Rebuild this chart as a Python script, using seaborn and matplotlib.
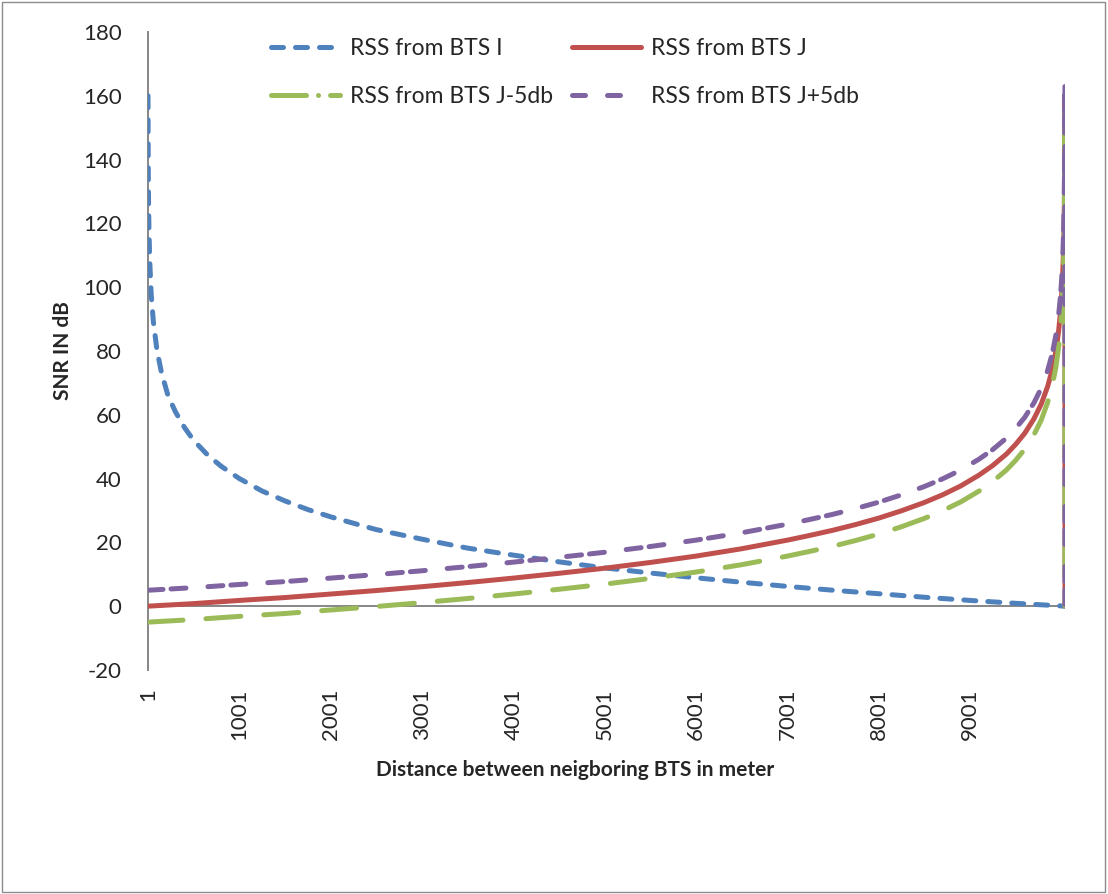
import matplotlib
matplotlib.use("Agg")
import matplotlib.pyplot as plt
from matplotlib.lines import Line2D
import seaborn as sns
import pandas as pd

# values
dist_i = [1, 2, 4, 7, 12, 20, 35, 60, 100, 150, 220, 300, 400, 500, 650, 800,
          1001, 1250, 1500, 1750, 2001, 2250, 2500, 3001, 3500, 4001, 4500,
          5001, 5500, 6001, 6500, 7001, 7500, 8001, 8500, 9001, 9500, 10041]
rss_i = [160, 148, 136, 126, 117, 108, 98, 89, 80, 73, 66, 61, 56, 52, 47.5, 43.9,
         40, 36.1, 33, 30.3, 28, 26, 24, 21, 18.2, 16, 13.9,
         12, 10.4, 8.9, 7.5, 6.2, 5.0, 3.9, 2.8, 1.8, 0.9, 0]

dist_j = [1, 500, 1001, 1500, 2001, 2500, 3001, 3500, 4001, 4500, 5001, 5500,
          6001, 6500, 7001, 7250, 7500, 7750, 8001, 8250, 8500, 8700, 8900,
          9100, 9250, 9400, 9500, 9600, 9700, 9780, 9850, 9900, 9940, 9970,
          9990, 10005, 10015, 10025, 10032, 10037, 10040, 10041]
rss_j = [0, 0.8, 1.8, 2.7, 3.8, 4.9, 6.1, 7.4, 8.8, 10.3, 11.9, 13.7,
         15.7, 18.0, 20.7, 22.2, 23.8, 25.6, 27.6, 29.9, 32.5, 34.9, 37.7,
         41.1, 44.1, 47.7, 50.7, 54.2, 58.7, 63.3, 68.8, 74.0, 79.8, 86.0,
         91.7, 97.8, 103.4, 111.8, 121.8, 135.9, 160, 0]
rss_j_minus5 = [-5, -4.2, -3.2, -2.3, -1.2, -0.1, 1.1, 2.4, 3.8, 5.3, 6.9, 8.7,
                10.7, 13.0, 15.7, 17.2, 18.8, 20.6, 22.6, 24.9, 27.5, 29.9, 32.7,
                36.1, 39.1, 42.7, 45.7, 49.2, 53.7, 58.3, 63.8, 69.0, 74.8, 81.0,
                86.7, 92.8, 98.4, 106.8, 116.8, 130.9, 155, 0]
rss_j_plus5 = [5, 5.8, 6.8, 7.7, 8.8, 9.9, 11.1, 12.4, 13.8, 15.3, 16.9, 18.7,
               20.7, 23.0, 25.7, 27.2, 28.8, 30.6, 32.6, 34.9, 37.5, 39.9, 42.7,
               46.1, 49.1, 52.7, 55.7, 59.2, 63.7, 68.3, 73.8, 79.0, 84.8, 91.0,
               96.7, 102.8, 108.4, 116.8, 126.8, 140.9, 165, 0]

x_ticks = [1, 1001, 2001, 3001, 4001, 5001, 6001, 7001, 8001, 9001]
y_ticks = [-20, 0, 20, 40, 60, 80, 100, 120, 140, 160, 180]

labels = ["RSS from BTS I", "RSS from BTS J", "RSS from BTS J-5db", "RSS from BTS J+5db"]
colors = ["#4F81BD", "#C0504D", "#9BBB59", "#8064A2"]
styles = [(0, (2.4, 2.4)), "-", (0, (7, 4.6)), (0, (3.0, 1.6, 3.0, 4.4))]
legend_styles = [(0, (2.4, 2.4)), "-", (0, (7, 2.4, 0.01, 2.4)), (0, (2.6, 4.4))]

sns.set_style("white")
plt.rcParams["font.family"] = ["Lato", "DejaVu Sans"]

df_i = pd.DataFrame({"d": dist_i, "v": rss_i})
df_j = pd.DataFrame({"d": dist_j, "J": rss_j, "J-5": rss_j_minus5, "J+5": rss_j_plus5})

fig = plt.figure(figsize=(11.08, 8.94), dpi=100)
ax = fig.add_axes([0.1336, 0.2506, 0.8276, 0.7136])

lw = 3.6
sns.lineplot(data=df_i, x="d", y="v", ax=ax, color=colors[0], lw=lw,
             linestyle=styles[0], dash_capstyle="round", zorder=3)
for col, c, ls in zip(["J", "J-5", "J+5"], colors[1:], styles[1:]):
    sns.lineplot(data=df_j, x="d", y=col, ax=ax, color=c, lw=lw, linestyle=ls,
                 dash_capstyle="round", solid_capstyle="round", zorder=3)

ax.axhline(0, color="#868686", lw=1.4, zorder=1)
ax.set_xlim(1, 10041)
ax.set_ylim(-20, 180)
ax.set_xticks(x_ticks)
ax.set_xticklabels([str(t) for t in x_ticks], rotation=90, fontsize=16)
ax.set_yticks(y_ticks)
ax.set_yticklabels([str(t) for t in y_ticks], fontsize=16)
ax.tick_params(axis="x", length=0, pad=13)
ax.tick_params(axis="y", length=0, pad=19)

for s in ["top", "right", "bottom"]:
    ax.spines[s].set_visible(False)
ax.spines["left"].set_color("#868686")
ax.spines["left"].set_linewidth(1.4)

ax.set_xlabel("")
ax.set_ylabel("SNR IN dB", fontsize=15, fontweight="bold")
ax.yaxis.set_label_coords(-0.082, 0.5)
fig.text(575 / 1108, 1 - 770 / 894, "Distance between neigboring BTS in meter",
         ha="center", va="center", fontsize=15, fontweight="bold")

handles = [Line2D([0], [0], color=c, lw=lw, linestyle=ls, dash_capstyle="round",
                  solid_capstyle="round")
           for c, ls in zip(colors, legend_styles)]
# row-major order like the original: I, J on top; J-5, J+5 below
order = [0, 2, 1, 3]
ax.legend([handles[k] for k in order], [labels[k] for k in order], ncol=2,
          loc="center", bbox_to_anchor=(0.51, 0.919),
          bbox_transform=fig.transFigure, frameon=False, fontsize=16.5,
          handlelength=3.0, handletextpad=0.45, columnspacing=0.8, labelspacing=1.2)

fig.add_artist(plt.Rectangle((0.0015, 0.002), 0.996, 0.996, transform=fig.transFigure,
                             fill=False, edgecolor="#8c8c8c", lw=1))

plt.savefig("out.png", dpi=100)
plt.close()
